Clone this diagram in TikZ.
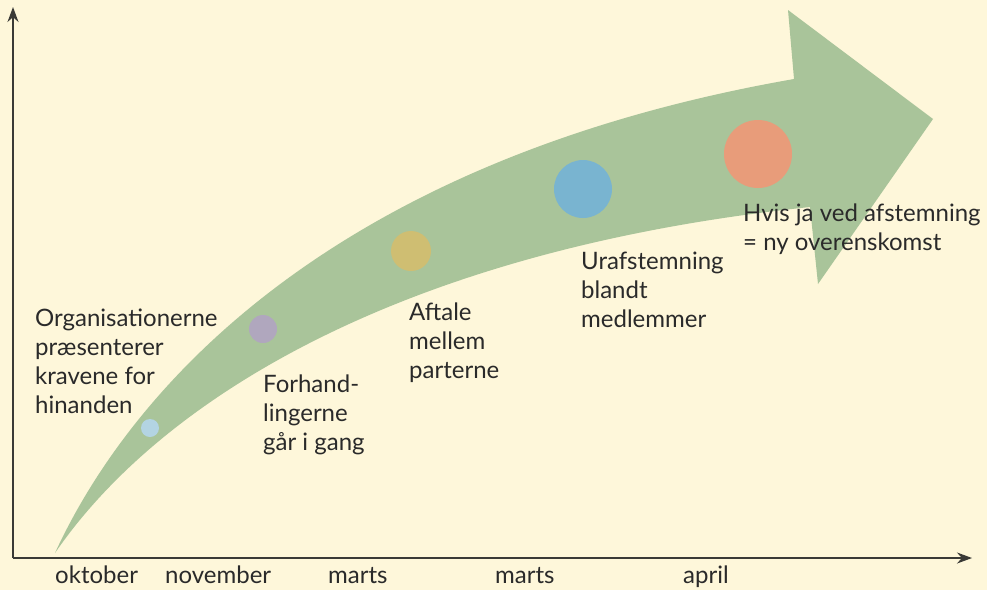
\documentclass[tikz,border=0pt]{standalone}
\usepackage{fontspec}
\setmainfont{Lato}
\usetikzlibrary{arrows.meta}
\definecolor{bgc}{HTML}{FEF7DA}
\definecolor{arrowgreen}{HTML}{A9C49A}
\definecolor{txt}{HTML}{2A2A2A}
\definecolor{axisc}{HTML}{3A3A36}
\definecolor{c1}{HTML}{B3D4E3}
\definecolor{c2}{HTML}{B0A7BE}
\definecolor{c3}{HTML}{CFBE72}
\definecolor{c4}{HTML}{79B4D0}
\definecolor{c5}{HTML}{E89C7A}
\tikzset{
  lbl/.style={anchor=base west, inner sep=0pt, text=txt, align=left,
    font=\fontsize{24}{28.7}\selectfont},
  axlbl/.style={anchor=base west, inner sep=0pt, text=txt,
    font=\fontsize{24}{28.7}\selectfont},
  dot/.style={circle, inner sep=0pt, draw=none},
  axisline/.style={draw=axisc, line width=1.5pt, -{Stealth[length=15pt,width=11pt]}}
}
\begin{document}
\begin{tikzpicture}[x=1pt,y=-1pt]
\fill[bgc] (0,0) rectangle (987,590);
\useasboundingbox (0,0) rectangle (987,590);
% big arrow
\fill[arrowgreen] (55,553) .. controls (130,390) and (330,160) .. (794,79)
  -- (788,10) -- (933,119) -- (818,284) -- (810,207)
  .. controls (400,250) and (160,400) .. (55,553) -- cycle;
% axes
\coordinate (o) at (13,558);
\coordinate (ytip) at (13,7);
\coordinate (xtip) at (972,558);
\draw[axisline] (o) -- (ytip);
\draw[axisline] (o) -- (xtip);
% dots
\node[dot, fill=c1, minimum size=18pt] (d1) at (150,428) {};
\node[dot, fill=c2, minimum size=28pt] (d2) at (263,329) {};
\node[dot, fill=c3, minimum size=40pt] (d3) at (411,251) {};
\node[dot, fill=c4, minimum size=58pt] (d4) at (583,189) {};
\node[dot, fill=c5, minimum size=68pt] (d5) at (758,154) {};
% labels (base anchor = baseline of last line)
\node[lbl] (t1) at (35,413) {Organisationerne\\præsenterer\\kravene for\\hinanden};
\node[lbl] (t2) at (263,450) {Forhand-\\lingerne\\går i gang};
\node[lbl] (t3) at (409,378) {Aftale\\mellem\\parterne};
\node[lbl] (t4) at (581,327) {Urafstemning\\blandt\\medlemmer};
\node[lbl] (t5) at (743,250.5) {Hvis ja ved afstemning\\= ny overenskomst};
% axis labels
\node[axlbl] (m1) at (55,583) {oktober};
\node[axlbl] (m2) at (165,583) {november};
\node[axlbl] (m3) at (328,583) {marts};
\node[axlbl] (m4) at (495,583) {marts};
\node[axlbl] (m5) at (683,583) {april};
\end{tikzpicture}
\end{document}
